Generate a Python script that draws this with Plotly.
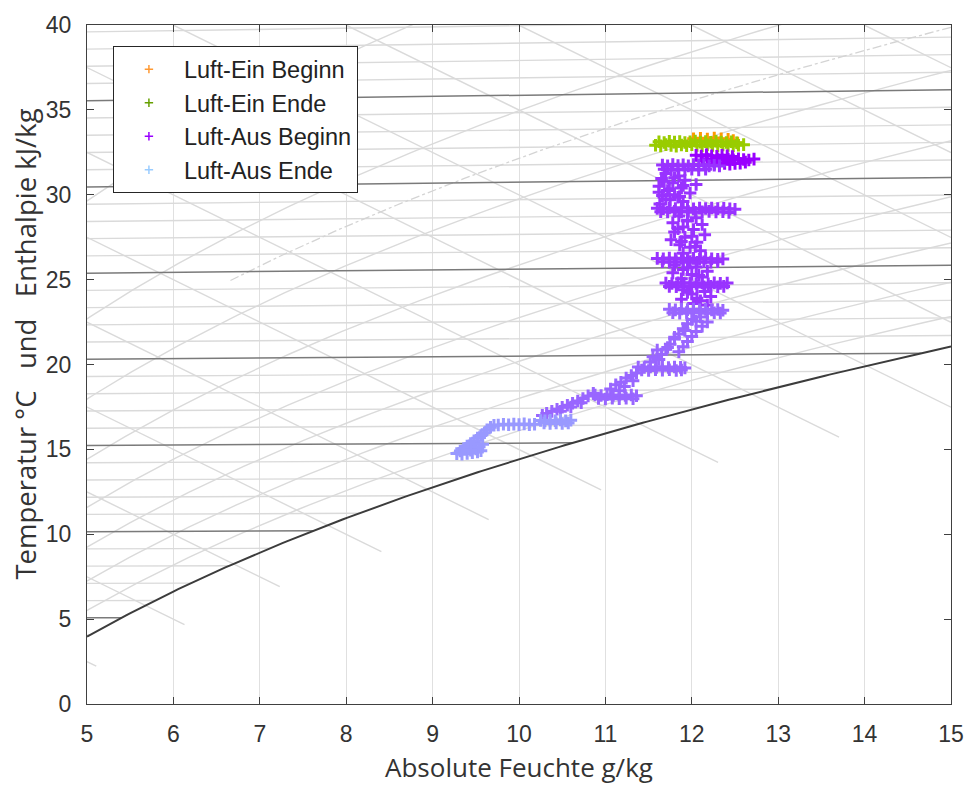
import numpy as np
import plotly.graph_objects as go

# ---------------- data ----------------
ein_beginn_x = [12.02, 12.1, 12.18, 12.26, 12.34, 12.42, 12.48, 12.53]
ein_beginn_y = [33.3, 33.33, 33.28, 33.34, 33.3, 33.27, 33.2, 33.05]

ein_ende_x = [11.58, 11.64, 11.7, 11.76, 11.82, 11.88, 11.94, 12.0, 12.06, 12.12, 12.18, 12.24, 12.3, 12.36, 12.42, 12.48, 12.54, 12.6,
              11.62, 11.68, 11.74, 11.8, 11.86, 11.92, 11.98, 12.04, 12.1, 12.16, 12.22, 12.28, 12.34, 12.4, 12.46, 12.52]
ein_ende_y = [32.92, 32.88, 32.95, 32.9, 32.86, 32.93, 32.89, 32.95, 32.9, 32.87, 32.94, 32.9, 32.88, 32.93, 32.9, 32.87, 32.92, 32.95,
              33.12, 33.08, 33.15, 33.1, 33.14, 33.08, 33.12, 33.16, 33.1, 33.13, 33.09, 33.15, 33.11, 33.08, 33.12, 33.06]

aus1_x = [12.05, 12.11, 12.17, 12.23, 12.29, 12.35, 12.41, 12.47,
          12.12, 12.18, 12.24, 12.3, 12.36, 12.42, 12.48, 12.54, 12.6, 12.66, 12.72,
          12.26, 12.32, 12.38, 12.44, 12.5, 12.56, 12.62]
aus1_y = [32.32, 32.28, 32.35, 32.3, 32.26, 32.33, 32.29, 32.25,
          32.05, 32.1, 32.02, 32.08, 32.04, 32.1, 32.06, 32.12, 32.08, 32.05, 32.1,
          31.82, 31.78, 31.85, 31.8, 31.84, 31.86, 31.92]

aus2_x = [11.66, 11.72, 11.78, 11.84, 11.9, 11.96, 12.02, 12.08, 12.14, 12.2, 12.26, 12.32, 11.68, 11.76, 11.84, 11.92, 12.0, 12.08, 12.16,
          11.7, 11.85, 11.65, 11.92, 11.78, 12.05, 11.62, 11.88, 11.72, 11.98, 11.66, 11.84, 11.75, 11.9, 11.63,
          11.8, 11.68, 11.9, 11.74, 11.62, 11.86, 11.7, 11.8,
          11.6, 11.67, 11.74, 11.81, 11.88, 11.95, 12.02, 12.09, 12.16, 12.23, 12.3, 12.37, 12.44, 12.5,
          11.64, 11.72, 11.8, 11.88, 11.96, 12.04, 12.12, 12.2, 12.28, 12.36, 12.43,
          11.85, 12.05, 11.95, 11.78, 12.12, 11.9, 12.02, 11.8, 12.15, 11.92, 11.76, 12.06, 11.86, 11.98, 12.1,
          11.95, 11.84, 12.0, 11.88, 12.04, 11.9,
          11.6, 11.67, 11.74, 11.81, 11.88, 11.95, 12.02, 12.09, 12.16, 12.23, 12.3, 12.36,
          11.66, 11.74, 11.82, 11.9, 11.98, 12.06, 12.14, 12.22, 12.3,
          11.8, 12.05, 11.9, 12.18, 11.78, 12.0, 12.12, 11.88, 11.95, 12.08,
          11.7, 11.77, 11.84, 11.91, 11.98, 12.05, 12.12, 12.19, 12.26, 12.33, 12.41,
          11.74, 11.82, 11.9, 11.98, 12.06, 12.14, 12.22, 12.3, 12.37,
          11.9, 12.15, 12.0, 12.22, 11.88, 12.1, 12.02, 12.18, 11.95, 12.06]
aus2_y = [31.75, 31.7, 31.78, 31.72, 31.76, 31.7, 31.78, 31.73, 31.77, 31.7, 31.74, 31.7, 31.5, 31.45, 31.52, 31.48, 31.5, 31.46, 31.5,
          31.25, 31.1, 30.95, 30.85, 30.7, 30.6, 30.5, 30.4, 30.25, 30.1, 29.95, 29.85, 29.7, 29.6, 29.45,
          31.0, 30.8, 30.55, 30.35, 30.15, 29.9, 29.75, 30.0,
          29.2, 29.18, 29.22, 29.19, 29.23, 29.2, 29.17, 29.21, 29.19, 29.22, 29.18, 29.2, 29.17, 29.15,
          29.0, 28.98, 29.02, 28.99, 29.01, 28.97, 29.0, 29.02, 28.98, 29.0, 28.96,
          28.75, 28.65, 28.5, 28.35, 28.25, 28.1, 27.95, 27.8, 27.65, 27.5, 27.35, 27.2, 27.05, 26.9, 26.7,
          28.45, 28.0, 27.55, 27.25, 26.95, 26.55,
          26.25, 26.22, 26.27, 26.23, 26.26, 26.22, 26.25, 26.21, 26.26, 26.23, 26.2, 26.22,
          26.05, 26.02, 26.06, 26.03, 26.07, 26.02, 26.05, 26.03, 26.06,
          25.85, 25.75, 25.6, 25.5, 25.4, 25.3, 25.15, 25.05, 25.7, 25.25,
          24.8, 24.77, 24.82, 24.78, 24.81, 24.77, 24.8, 24.76, 24.81, 24.78, 24.8,
          24.6, 24.58, 24.62, 24.59, 24.6, 24.57, 24.61, 24.58, 24.6,
          24.4, 24.3, 24.15, 24.0, 23.85, 23.75, 23.6, 23.5, 24.25, 23.9]

aus3_x = [11.74, 11.81, 11.88, 11.95, 12.02, 12.09, 12.16, 12.23, 12.3, 12.36,
          11.78, 11.86, 11.94, 12.02, 12.1, 12.18, 12.26, 12.33,
          12.1, 12.0, 12.18, 11.95, 12.12, 11.9, 12.05, 11.85, 12.0, 11.8, 11.95, 11.75, 11.9, 11.7, 11.85, 11.65, 11.6, 11.55, 11.62, 11.52,
          12.05, 11.92, 11.8, 11.72,
          11.38, 11.45, 11.52, 11.59, 11.66, 11.73, 11.8, 11.87, 11.92,
          11.42, 11.5, 11.58, 11.66, 11.74, 11.82, 11.88,
          11.36, 11.3, 11.24, 11.32, 11.18, 11.12, 11.22, 11.06, 11.16,
          10.88, 10.95, 11.02, 11.09, 11.16, 11.23, 11.3, 11.36,
          10.92, 11.0, 11.08, 11.16, 11.24, 11.32,
          10.86, 10.8, 10.74, 10.68, 10.62, 10.56, 10.5, 10.44, 10.38, 10.32, 10.27, 10.72, 10.6, 10.48]
aus3_y = [23.25, 23.22, 23.27, 23.23, 23.26, 23.22, 23.25, 23.21, 23.24, 23.2,
          23.05, 23.02, 23.06, 23.03, 23.07, 23.02, 23.05, 23.03,
          22.8, 22.65, 22.5, 22.4, 22.25, 22.1, 21.95, 21.8, 21.65, 21.5, 21.35, 21.2, 21.05, 20.9, 20.75, 20.6, 20.85, 20.45, 20.3, 20.15,
          22.55, 22.0, 21.6, 21.0,
          19.85, 19.82, 19.86, 19.83, 19.87, 19.82, 19.85, 19.83, 19.8,
          19.68, 19.65, 19.7, 19.66, 19.69, 19.65, 19.68,
          19.5, 19.35, 19.2, 19.05, 18.95, 18.8, 18.7, 18.55, 18.45,
          18.2, 18.17, 18.22, 18.18, 18.21, 18.17, 18.2, 18.16,
          18.0, 17.97, 18.01, 17.98, 18.02, 17.98,
          18.3, 18.15, 18.0, 17.85, 17.72, 17.6, 17.48, 17.36, 17.24, 17.12, 17.0, 17.75, 17.5, 17.25]

aus4_x = [10.6, 10.54, 10.48, 10.42, 10.36, 10.3, 10.25, 10.57, 10.5, 10.43, 10.36, 10.29,
          10.18, 10.12, 10.06, 10.0, 9.94, 9.88, 9.82, 9.76, 9.71,
          9.67, 9.63, 9.6, 9.56, 9.52, 9.48, 9.44, 9.4, 9.36, 9.32, 9.28,
          9.34, 9.4, 9.46, 9.52, 9.56, 9.5, 9.44, 9.54, 9.58]
aus4_y = [16.72, 16.68, 16.73, 16.69, 16.72, 16.68, 16.7, 16.55, 16.52, 16.56, 16.53, 16.55,
          16.48, 16.45, 16.5, 16.46, 16.49, 16.45, 16.48, 16.44, 16.42,
          16.3, 16.15, 15.98, 15.82, 15.66, 15.5, 15.35, 15.2, 15.05, 14.9, 14.75,
          14.72, 14.76, 14.8, 14.85, 14.92, 15.02, 14.95, 15.15, 15.3]

legend_names = ["Luft-Ein Beginn", "Luft-Ein Ende", "Luft-Aus Beginn", "Luft-Aus Ende"]
legend_colors = ["#ff9933", "#66a000", "#9900ff", "#99ccff"]

x_ticks = list(range(5, 16))
y_ticks = list(range(0, 41, 5))

# ---------------- Mollier (h,x) chart scaffolding ----------------
P_ATM = 101325.0
ISO_T = list(range(0, 40))
RH_LEVELS = [0.1, 0.2, 0.3, 0.4, 0.5, 0.6, 0.7, 0.8, 0.9]
RH_DASH = 0.35
H_LEVELS = list(range(10, 81, 5))


def p_sat(t):
    return 611.2 * np.exp(17.62 * t / (243.12 + t))


def x_of(t, phi):
    ps = phi * p_sat(t)
    return 622.0 * ps / (P_ATM - ps)


def y_of(t, x):
    return t * (1.006 + 0.00186 * x)


def t_dew(x):
    pw = x * P_ATM / (622.0 + x)
    a = np.log(pw / 611.2)
    return 243.12 * a / (17.62 - a)


def y_sat(x):
    return y_of(t_dew(x), x)


light_x, light_y = [], []
dark_x, dark_y = [], []
for t in ISO_T:
    xe = min(15.0, x_of(t, 1.0))
    if xe <= 5:
        continue
    tx, ty = (dark_x, dark_y) if t % 5 == 0 else (light_x, light_y)
    tx += [5.0, xe, None]
    ty += [y_of(t, 5.0), y_of(t, xe), None]

tt = np.arange(-5, 60, 0.25)
for phi in RH_LEVELS:
    xs = x_of(tt, phi)
    ys = y_of(tt, xs)
    m = (xs > 4.5) & (xs < 15.5) & (ys < 42)
    light_x += list(xs[m]) + [None]
    light_y += list(ys[m]) + [None]

xs_d = x_of(tt, RH_DASH)
ys_d = y_of(tt, xs_d)
md = (xs_d > 6.6) & (xs_d < 15.5) & (ys_d < 42)
dash_x, dash_y = list(xs_d[md]), list(ys_d[md])

for h in H_LEVELS:
    lo, hi = 0.5, 40.0
    for _ in range(60):
        mid = 0.5 * (lo + hi)
        if h - 2.501 * mid - y_sat(mid) > 0:
            lo = mid
        else:
            hi = mid
    xe = min(15.0, lo * 1.08)
    xs0 = max(5.0, (h - 40.0) / 2.501)
    if xs0 >= xe:
        continue
    light_x += [xs0, xe, None]
    light_y += [h - 2.501 * xs0, h - 2.501 * xe, None]

sx = np.linspace(5, 15, 200)
sy = y_sat(sx)

fig = go.Figure()
fig.add_trace(go.Scatter(x=light_x, y=light_y, mode="lines", line=dict(color="#dadada", width=1.4),
                         showlegend=False, hoverinfo="skip"))
fig.add_trace(go.Scatter(x=dash_x, y=dash_y, mode="lines", line=dict(color="#d4d4d4", width=1.3, dash="dashdot"),
                         showlegend=False, hoverinfo="skip"))
fig.add_trace(go.Scatter(x=dark_x, y=dark_y, mode="lines", line=dict(color="#7a7a7a", width=1.5),
                         showlegend=False, hoverinfo="skip"))
fig.add_trace(go.Scatter(x=sx, y=sy, mode="lines", line=dict(color="#3c3c3c", width=2),
                         showlegend=False, hoverinfo="skip"))


def pts(x, y, color, size=9):
    fig.add_trace(go.Scatter(x=x, y=y, mode="markers", showlegend=False, hoverinfo="x+y",
                             marker=dict(symbol="cross-thin", size=size, color=color,
                                         line=dict(width=3, color=color))))


pts(ein_beginn_x, ein_beginn_y, "#ff9900")
pts(ein_ende_x, ein_ende_y, "#99cc00")
pts(aus1_x, aus1_y, "#9900ff")
pts(aus2_x, aus2_y, "#9933ff")
pts(aus3_x, aus3_y, "#9966ff")
pts(aus4_x, aus4_y, "#9999ff")

for name, col in zip(legend_names, legend_colors):
    fig.add_trace(go.Scatter(x=[None], y=[None], mode="markers", name=name,
                             marker=dict(symbol="cross-thin", size=6, color=col, line=dict(width=1.5, color=col))))

axis_common = dict(showline=True, linecolor="#404040", linewidth=1, mirror="allticks", ticks="inside",
                   ticklen=7, tickcolor="#404040", zeroline=False,
                   tickfont=dict(family="Liberation Sans, Arial", size=23, color="#333333"))

fig.update_layout(
    width=976, height=790,
    margin=dict(l=87, r=23, t=20, b=86),
    paper_bgcolor="white", plot_bgcolor="white",
    xaxis=dict(range=[5, 15], tickvals=x_ticks, showgrid=True, gridcolor="#e0e0e0", gridwidth=1,
               ticklabelstandoff=9, **axis_common),
    yaxis=dict(range=[0, 40], tickvals=y_ticks, showgrid=False, ticklabelstandoff=10, **axis_common),
    legend=dict(x=0.030, y=(704 - 42) / 683.5, xanchor="left", yanchor="top", bgcolor="white",
                bordercolor="#262626", borderwidth=1, itemwidth=60,
                font=dict(family="Liberation Sans, Arial", size=23.5, color="#222222")),
    showlegend=True,
    annotations=[
        dict(text="Absolute Feuchte g/kg", xref="paper", yref="paper", x=0.5, y=(704 - 767) / 683.5,
             xanchor="center", yanchor="middle", showarrow=False,
             font=dict(family="Open Sans", size=26, color="#333333")),
        dict(text="Temperatur °C\u00a0\u00a0\u00a0und\u00a0\u00a0\u00a0Enthalpie kJ/kg", xref="paper", yref="paper",
             x=(25 - 87) / 866, y=(704 - 342) / 683.5, xanchor="center", yanchor="middle",
             textangle=-90, showarrow=False,
             font=dict(family="Open Sans", size=27.5, color="#333333")),
    ],
)

fig.write_html("out.html")
